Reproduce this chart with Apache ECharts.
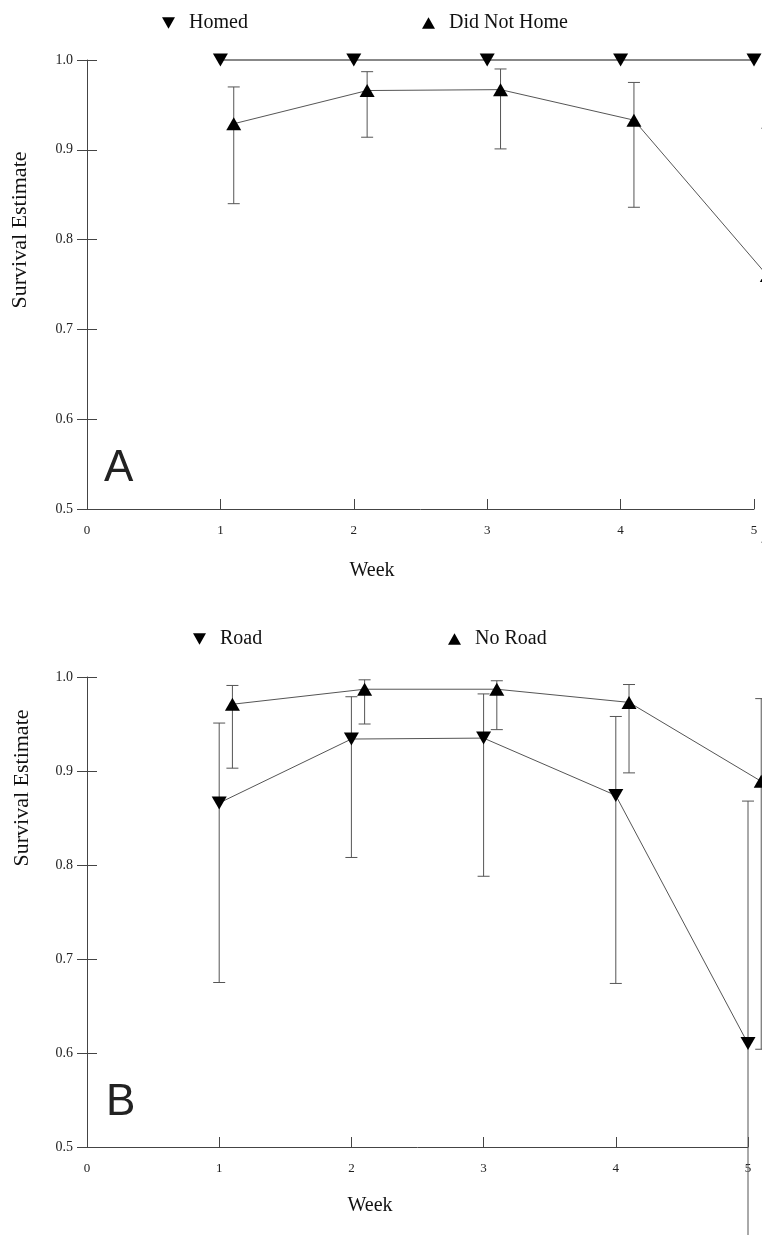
<!DOCTYPE html>
<html lang="en">
<head>
    <meta charset="UTF-8">
    <title>Survival Estimate by Week</title>
    <script type="text/javascript" src="https://cdn.jsdelivr.net/npm/echarts@6/dist/echarts.min.js"></script>
    <style>
        html, body { margin: 0; padding: 0; background: #fff; }
        #container { width: 762px; height: 1235px; }
    </style>
</head>
<body>
<div id="container"></div>
<script type="text/javascript">
    // panel A: homed vs did not home
    var homedWeeks = [1, 2, 3, 4, 5];
    var homedEst = [1.0, 1.0, 1.0, 1.0, 1.0];
    var notHomeWeeks = [1.1, 2.1, 3.1, 4.1, 5.1];
    var notHomeEst = [0.929, 0.966, 0.967, 0.933, 0.760];
    var notHomeLow = [0.840, 0.914, 0.901, 0.836, 0.463];
    var notHomeHigh = [0.970, 0.987, 0.990, 0.975, 0.924];

    // panel B: road vs no road
    var roadWeeks = [1, 2, 3, 4, 5];
    var roadEst = [0.866, 0.934, 0.935, 0.874, 0.610];
    var roadLow = [0.675, 0.808, 0.788, 0.674, 0.390];
    var roadHigh = [0.951, 0.979, 0.982, 0.958, 0.868];
    var noRoadWeeks = [1.1, 2.1, 3.1, 4.1, 5.1];
    var noRoadEst = [0.971, 0.987, 0.987, 0.973, 0.889];
    var noRoadLow = [0.903, 0.950, 0.944, 0.898, 0.604];
    var noRoadHigh = [0.991, 0.997, 0.996, 0.992, 0.977];

    var weekTicks = ['0', '1', '2', '3', '4', '5'];

    var downTri = 'path://M0,0 L10,0 L5,9 Z';
    var upTri = 'path://M5,0 L10,9 L0,9 Z';
    var serif = '"Liberation Serif", "Times New Roman", serif';

    // the figure is cropped at the right: week 5.1 sits past the axis end,
    // so the marks go on a wider hidden grid with the same scale
    var W = 762, leftPx = 87, endA = 754, endB = 748;
    var extA = 5 * (W - leftPx) / (endA - leftPx);
    var extB = 5 * (W - leftPx) / (endB - leftPx);

    function pairs(xs, ys) {
        var out = [];
        for (var i = 0; i < xs.length; i++) out.push([xs[i], ys[i]]);
        return out;
    }
    function bars(xs, lo, hi) {
        var out = [];
        for (var i = 0; i < xs.length; i++) out.push([xs[i], lo[i], hi[i]]);
        return out;
    }

    // vertical error bar with caps
    function errorBar(params, api) {
        var x = api.value(0);
        var pLo = api.coord([x, api.value(1)]);
        var pHi = api.coord([x, api.value(2)]);
        var w = 6;
        var st = { stroke: '#555', lineWidth: 1 };
        return {
            type: 'group',
            children: [
                { type: 'line', shape: { x1: pLo[0], y1: pLo[1], x2: pHi[0], y2: pHi[1] }, style: st },
                { type: 'line', shape: { x1: pHi[0] - w, y1: pHi[1], x2: pHi[0] + w, y2: pHi[1] }, style: st },
                { type: 'line', shape: { x1: pLo[0] - w, y1: pLo[1], x2: pLo[0] + w, y2: pLo[1] }, style: st }
            ]
        };
    }

    function xAxisFor(idx) {
        return {
            type: 'value', gridIndex: idx, min: 0, max: 5, interval: 1,
            axisLine: { onZero: false, lineStyle: { color: '#444', width: 1 } },
            axisTick: { inside: true, length: 10, lineStyle: { color: '#444' } },
            axisLabel: {
                margin: 15, color: '#222', fontFamily: serif, fontSize: 13,
                formatter: function (v) { return weekTicks[Math.round(v)]; }
            },
            splitLine: { show: false }
        };
    }
    // two left axes per panel so the ticks cross the axis line
    function yAxisFor(idx, inner) {
        return {
            type: 'value', gridIndex: idx, position: 'left', offset: 0,
            min: 0.5, max: 1.0, interval: 0.1,
            axisLine: { show: !inner, onZero: false, lineStyle: { color: '#444', width: 1 } },
            axisTick: { inside: inner, length: 10, lineStyle: { color: '#444' } },
            axisLabel: {
                show: !inner, margin: 14, color: '#222', fontFamily: serif, fontSize: 14,
                formatter: function (v) { return v.toFixed(1); }
            },
            splitLine: { show: false }
        };
    }
    function hiddenX(idx, max) {
        return { type: 'value', gridIndex: idx, min: 0, max: max, show: false, splitLine: { show: false } };
    }
    function hiddenY(idx) {
        return { type: 'value', gridIndex: idx, min: 0.5, max: 1.0, show: false, splitLine: { show: false } };
    }

    var legendText = { fontFamily: serif, fontSize: 20, color: '#111', padding: [0, 0, 0, 9] };

    var myChart = echarts.init(document.getElementById('container'), null, { renderer: 'canvas' });

    var option = {
        animation: false,
        backgroundColor: '#fff',
        grid: [
            { left: leftPx, top: 60, right: W - endA, bottom: 726 },
            { left: leftPx, top: 677, right: W - endB, bottom: 88 },
            { left: leftPx, top: 60, right: 0, bottom: 726 },
            { left: leftPx, top: 677, right: 0, bottom: 88 }
        ],
        xAxis: [xAxisFor(0), xAxisFor(1), hiddenX(2, extA), hiddenX(3, extB)],
        yAxis: [yAxisFor(0, false), yAxisFor(0, true), yAxisFor(1, false), yAxisFor(1, true),
                hiddenY(2), hiddenY(3)],
        legend: [
            { left: 157, top: 8, itemWidth: 13, itemHeight: 12, textStyle: legendText,
              data: [{ name: 'Homed', icon: downTri }] },
            { left: 417, top: 8, itemWidth: 13, itemHeight: 12, textStyle: legendText,
              data: [{ name: 'Did Not Home', icon: upTri }] },
            { left: 188, top: 624, itemWidth: 13, itemHeight: 12, textStyle: legendText,
              data: [{ name: 'Road', icon: downTri }] },
            { left: 443, top: 624, itemWidth: 13, itemHeight: 12, textStyle: legendText,
              data: [{ name: 'No Road', icon: upTri }] }
        ],
        graphic: [
            { type: 'text', x: 20, y: 230, rotation: Math.PI / 2,
              style: { text: 'Survival Estimate', font: '22px ' + serif, fill: '#111', textAlign: 'center', textVerticalAlign: 'middle' } },
            { type: 'text', x: 372, y: 571,
              style: { text: 'Week', font: '20px ' + serif, fill: '#111', textAlign: 'center', textVerticalAlign: 'middle' } },
            { type: 'text', x: 104, y: 469,
              style: { text: 'A', font: '44px "Liberation Sans", Arial, sans-serif', fill: '#222', textVerticalAlign: 'middle' } },
            { type: 'text', x: 22, y: 788, rotation: Math.PI / 2,
              style: { text: 'Survival Estimate', font: '22px ' + serif, fill: '#111', textAlign: 'center', textVerticalAlign: 'middle' } },
            { type: 'text', x: 370, y: 1206,
              style: { text: 'Week', font: '20px ' + serif, fill: '#111', textAlign: 'center', textVerticalAlign: 'middle' } },
            { type: 'text', x: 106, y: 1103,
              style: { text: 'B', font: '44px "Liberation Sans", Arial, sans-serif', fill: '#222', textVerticalAlign: 'middle' } }
        ],
        series: [
            { type: 'custom', name: 'ciA', xAxisIndex: 2, yAxisIndex: 4, clip: false, z: 1,
              renderItem: errorBar, data: bars(notHomeWeeks, notHomeLow, notHomeHigh) },
            { type: 'line', name: 'Homed', xAxisIndex: 2, yAxisIndex: 4, clip: false, z: 3,
              data: pairs(homedWeeks, homedEst), symbol: downTri, symbolSize: [15, 13],
              itemStyle: { color: '#000' }, lineStyle: { color: '#888', width: 2 } },
            { type: 'line', name: 'Did Not Home', xAxisIndex: 2, yAxisIndex: 4, clip: false, z: 3,
              data: pairs(notHomeWeeks, notHomeEst), symbol: upTri, symbolSize: [15, 13],
              itemStyle: { color: '#000' }, lineStyle: { color: '#555', width: 1 } },

            { type: 'custom', name: 'ciRoad', xAxisIndex: 3, yAxisIndex: 5, clip: false, z: 1,
              renderItem: errorBar, data: bars(roadWeeks, roadLow, roadHigh) },
            { type: 'custom', name: 'ciNoRoad', xAxisIndex: 3, yAxisIndex: 5, clip: false, z: 1,
              renderItem: errorBar, data: bars(noRoadWeeks, noRoadLow, noRoadHigh) },
            { type: 'line', name: 'Road', xAxisIndex: 3, yAxisIndex: 5, clip: false, z: 3,
              data: pairs(roadWeeks, roadEst), symbol: downTri, symbolSize: [15, 13],
              itemStyle: { color: '#000' }, lineStyle: { color: '#555', width: 1 } },
            { type: 'line', name: 'No Road', xAxisIndex: 3, yAxisIndex: 5, clip: false, z: 3,
              data: pairs(noRoadWeeks, noRoadEst), symbol: upTri, symbolSize: [15, 13],
              itemStyle: { color: '#000' }, lineStyle: { color: '#555', width: 1 } }
        ]
    };

    myChart.setOption(option);
    window.addEventListener('resize', myChart.resize);
</script>
</body>
</html>
